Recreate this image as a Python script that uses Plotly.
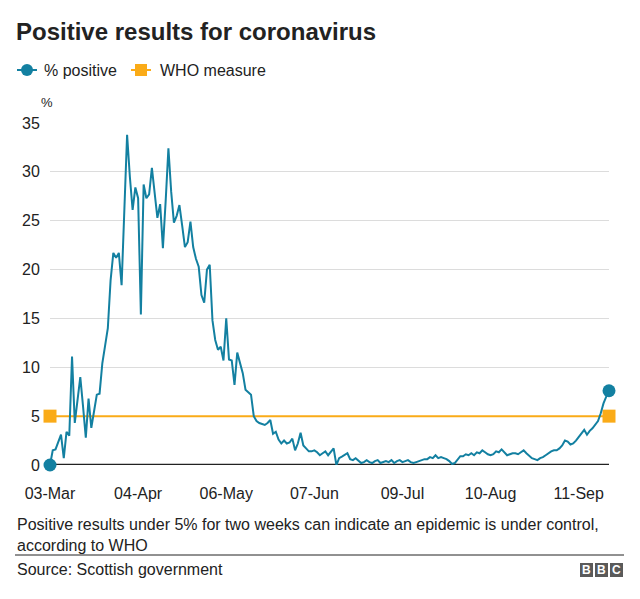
import pandas as pd
import plotly.graph_objects as go

# ---- data (daily % positive, Scotland, from 03-Mar) ----
start_date = "2020-03-03"
pct_positive = [
    0.0, 1.5, 1.6, 2.3, 3.1, 0.7, 3.4, 3.0, 11.1, 4.3,
    6.5, 9.0, 6.0, 2.8, 6.8, 3.8, 5.5, 7.2, 7.3, 10.4,
    12.2, 14.0, 18.9, 21.7, 21.2, 21.7, 18.4, 26.0, 33.8, 29.5,
    26.1, 28.4, 27.3, 15.4, 28.7, 27.3, 27.7, 30.4, 27.5, 25.3,
    26.7, 22.2, 27.0, 32.4, 28.0, 24.8, 25.5, 26.6, 24.5, 22.3,
    22.8, 24.9, 22.3, 21.1, 20.3, 17.4, 16.6, 20.0, 20.5, 14.8,
    12.8, 11.8, 12.1, 10.7, 15.0, 10.8, 10.7, 8.2, 11.5, 10.5,
    9.4, 7.7, 7.4, 7.2, 5.0, 4.5, 4.3, 4.2, 4.1, 4.3,
    4.6, 3.2, 3.4, 2.6, 2.2, 2.5, 2.2, 2.3, 2.7, 1.5,
    2.2, 3.3, 2.0, 1.7, 1.4, 1.4, 1.5, 1.3, 1.0, 1.2,
    1.4, 1.0, 1.3, 1.7, 0.0, 0.7, 0.85, 1.0, 1.2, 0.6,
    0.5, 0.7, 0.4, 0.2, 0.3, 0.5, 0.3, 0.2, 0.4, 0.5,
    0.2, 0.3, 0.4, 0.3, 0.5, 0.2, 0.4, 0.5, 0.3, 0.4,
    0.5, 0.3, 0.2, 0.3, 0.4, 0.5, 0.6, 0.6, 0.8, 0.7,
    1.0, 0.7, 0.8, 0.7, 0.6, 0.4, 0.1, 0.2, 0.6, 0.9,
    0.9, 1.1, 1.0, 1.2, 1.0, 1.3, 1.2, 1.5, 1.3, 1.1,
    1.0, 1.1, 1.4, 1.3, 1.6, 1.3, 1.0, 1.1, 1.2, 1.2,
    1.1, 1.3, 1.5, 1.2, 0.9, 0.7, 0.6, 0.5, 0.7, 0.8,
    1.0, 1.2, 1.4, 1.5, 1.5, 1.7, 2.0, 2.5, 2.4, 2.1,
    2.2, 2.5, 2.9, 3.2, 3.6, 3.1, 3.5, 3.75, 4.1, 4.5,
    5.3, 6.3, 7.0, 7.6,
]
who_measure = [5, 5]

x_tick_dates = ["2020-03-03", "2020-04-04", "2020-05-06", "2020-06-07",
                "2020-07-09", "2020-08-10", "2020-09-11"]
x_tick_labels = ["03-Mar", "04-Apr", "06-May", "07-Jun", "09-Jul", "10-Aug", "11-Sep"]
y_tick_vals = [0, 5, 10, 15, 20, 25, 30, 35]
legend_names = ["% positive", "WHO measure"]

dates = pd.date_range(start_date, periods=len(pct_positive), freq="D")
ends = [dates[0], dates[-1]]

TEAL = "#1380A1"
ORANGE = "#FAAB18"
TXT = "#222222"
FONT = "Liberation Sans, Arial, sans-serif"

W, H = 640, 599
L, R, T, B = 50, 31, 123, 134
pw, ph = W - L - R, H - T - B


def px(xp):
    return (xp - L) / pw


def py(yp):
    return (H - B - yp) / ph


fig = go.Figure()

fig.add_trace(go.Scatter(
    x=ends, y=who_measure, mode="lines+markers", name=legend_names[1],
    line=dict(color=ORANGE, width=2),
    marker=dict(symbol="square", size=13, color=ORANGE),
    cliponaxis=False, showlegend=False))

fig.add_trace(go.Scatter(
    x=dates, y=pct_positive, mode="lines", name=legend_names[0],
    line=dict(color=TEAL, width=2), showlegend=False, cliponaxis=False))

fig.add_trace(go.Scatter(
    x=ends, y=[pct_positive[0], pct_positive[-1]], mode="markers",
    marker=dict(symbol="circle", size=13, color=TEAL),
    cliponaxis=False, showlegend=False))

# zero baseline
fig.add_shape(type="line", xref="x", yref="y", x0=dates[0], x1=dates[-1], y0=0, y1=0,
              line=dict(color="#222222", width=2.5), layer="below")

annotations = []

# manual legend (key at top)
LEG_Y = 70
for name, color, sym, lx0, tx in [(legend_names[0], TEAL, "circle", 17, 42),
                                   (legend_names[1], ORANGE, "square", 131, 158)]:
    fig.add_shape(type="line", xref="paper", yref="paper", x0=px(lx0), x1=px(lx0 + 20),
                  y0=py(LEG_Y), y1=py(LEG_Y), line=dict(color=color, width=2))
    cx = lx0 + 10
    r = 6
    fig.add_shape(type="circle" if sym == "circle" else "rect", xref="paper", yref="paper",
                  x0=px(cx - r), x1=px(cx + r), y0=py(LEG_Y + r), y1=py(LEG_Y - r),
                  fillcolor=color, line=dict(width=0))
    annotations.append(dict(text=name, x=px(tx), y=py(LEG_Y), xref="paper", yref="paper",
                            xanchor="left", yanchor="middle", showarrow=False,
                            font=dict(size=16, color=TXT)))

fig.update_layout(
    width=W, height=H,
    margin=dict(l=L, r=R, t=T, b=B),
    paper_bgcolor="white", plot_bgcolor="white",
    font=dict(family=FONT, color=TXT, size=16),
    title=dict(text="<b>Positive results for coronavirus</b>",
               x=16 / W, xanchor="left", xref="container",
               y=1 - 32 / H, yanchor="middle", yref="container",
               font=dict(size=24, color=TXT, family=FONT)),
    xaxis=dict(range=[dates[0], dates[-1]], showgrid=False, zeroline=False,
               showline=False, tickmode="array", tickvals=x_tick_dates,
               ticktext=x_tick_labels, ticks="outside", ticklen=14,
               tickcolor="rgba(0,0,0,0)", tickfont=dict(size=16, color=TXT)),
    yaxis=dict(range=[0, 35], tickvals=y_tick_vals, showgrid=True, gridcolor="#dcdcdc",
               gridwidth=1, zeroline=False, showline=False, ticks="outside", ticklen=6,
               tickcolor="rgba(0,0,0,0)", tickfont=dict(size=16, color=TXT)),
    showlegend=False,
)

annotations += [
    dict(text="%", x=px(39), y=py(103), xref="paper", yref="paper",
         xanchor="left", yanchor="middle", showarrow=False, font=dict(size=13, color=TXT)),
    dict(text="Positive results under 5% for two weeks can indicate an epidemic is under control,<br>according to WHO",
         x=px(15), y=py(514), xref="paper", yref="paper", xanchor="left", yanchor="top",
         align="left", showarrow=False, font=dict(size=16, color=TXT)),
    dict(text="Source: Scottish government", x=px(15), y=py(569), xref="paper", yref="paper",
         xanchor="left", yanchor="middle", showarrow=False, font=dict(size=16, color=TXT)),
]
# BBC logo blocks
for i, letter in enumerate(["B", "B", "C"]):
    x0 = 580 + i * 15
    fig.add_shape(type="rect", xref="paper", yref="paper",
                  x0=px(x0), x1=px(x0 + 13), y0=py(577), y1=py(563),
                  fillcolor="#5a5a5a", line=dict(width=0))
    annotations.append(dict(text="<b>%s</b>" % letter, x=px(x0 + 6.5), y=py(570),
                            xref="paper", yref="paper", xanchor="center", yanchor="middle",
                            showarrow=False, font=dict(size=12, color="white")))

fig.add_shape(type="line", xref="paper", yref="paper", x0=px(15), x1=px(624),
              y0=py(555), y1=py(555), line=dict(color="#222222", width=1))

fig.update_layout(annotations=annotations)

fig.write_html("out.html", config={"displayModeBar": False},
               post_script="document.body.style.margin='0';")
